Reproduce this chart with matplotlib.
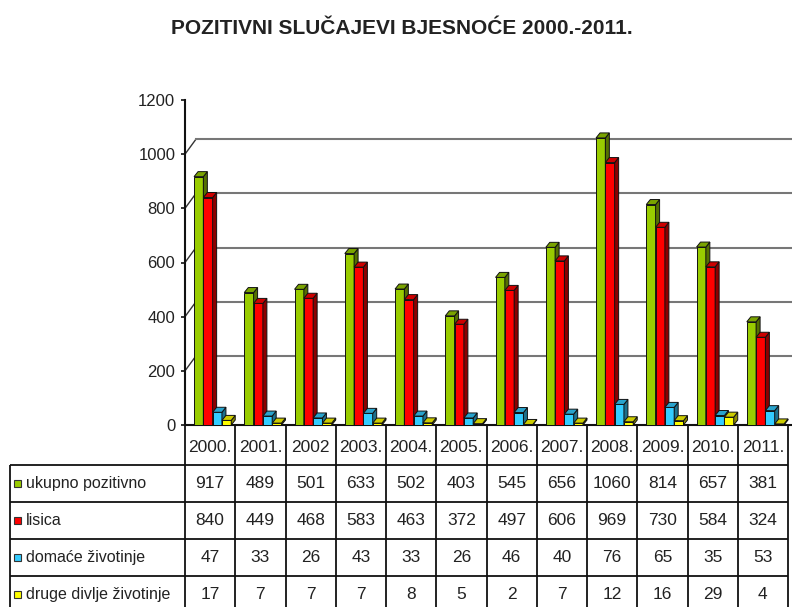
import numpy as np
import matplotlib
matplotlib.use('Agg')
import matplotlib.pyplot as plt
from matplotlib.patches import Polygon, Rectangle
from matplotlib.colors import to_rgb


years = ['2000.', '2001.', '2002', '2003.', '2004.', '2005.', '2006.',
         '2007.', '2008.', '2009.', '2010.', '2011.']
series_names = ['ukupno pozitivno', 'lisica', 'domaće životinje',
                'druge divlje životinje']
ukupno = [917, 489, 501, 633, 502, 403, 545, 656, 1060, 814, 657, 381]
lisica = [840, 449, 468, 583, 463, 372, 497, 606, 969, 730, 584, 324]
domace = [47, 33, 26, 43, 33, 26, 46, 40, 76, 65, 35, 53]
druge = [17, 7, 7, 7, 8, 5, 2, 7, 12, 16, 29, 4]
y_ticks = [0, 200, 400, 600, 800, 1000, 1200]

series = [ukupno, lisica, domace, druge]
colors = ['#99CC00', '#FF0000', '#33CCFF', '#FFFF00']

plt.rcParams['font.family'] = ['Liberation Sans Narrow', 'Liberation Sans', 'DejaVu Sans']
TXT = '#222222'

W, H = 792, 607
COL0 = 185          # left edge of the plot / first table column (px)
COLW = 50.25        # width of one year column (px)
Y0, Y1 = 425, 100   # pixel rows of 0 and 1200

fig = plt.figure(figsize=(W / 100, H / 100), dpi=100)
xmax = (W - COL0) / COLW
ax = fig.add_axes([COL0 / W, 1 - Y0 / H, 1 - COL0 / W, (Y0 - Y1) / H])
ax.set_xlim(0, xmax)
ax.set_ylim(0, 1200)

# fake depth, in data units
px_y = 1200 / (Y0 - Y1)
DX, DY = 4 / COLW, 5 * px_y       # bar depth
GX, GY = 11 / COLW, 15 * px_y     # back wall offset


def shade(c, f):
    r, g, b = to_rgb(c)
    return (r * f, g * f, b * f)


# back wall grid lines with the diagonal links to the axis
for v in y_ticks[1:-1]:
    ax.plot([0, GX], [v, v + GY], color='#333333', lw=1.0, zorder=1, clip_on=False)
    ax.plot([GX, xmax], [v + GY, v + GY], color='#777777', lw=1.5, zorder=1,
            clip_on=False)

barw = 0.185
for k, (vals, col) in enumerate(zip(series, colors)):
    x = np.arange(len(years)) + 0.18 + k * barw
    z = 3 + k
    ax.bar(x, vals, barw, align='edge', color=col, edgecolor='#111111',
           lw=0.7, zorder=z)
    for xi, h in zip(x, vals):
        side = [(xi + barw, 0), (xi + barw + DX, DY), (xi + barw + DX, h + DY), (xi + barw, h)]
        top = [(xi, h), (xi + DX, h + DY), (xi + barw + DX, h + DY), (xi + barw, h)]
        ax.add_patch(Polygon(side, closed=True, fc=shade(col, 0.55),
                             ec='#111111', lw=0.7, zorder=z))
        ax.add_patch(Polygon(top, closed=True, fc=shade(col, 0.8),
                             ec='#111111', lw=0.7, zorder=z))

ax.set_yticks(y_ticks)
ax.set_xticks([])
ax.tick_params(axis='y', length=3, width=1.2, pad=4, labelsize=12,
               labelcolor=TXT, color='#111111')
for s in ['top', 'right']:
    ax.spines[s].set_visible(False)
for s in ['left', 'bottom']:
    ax.spines[s].set_linewidth(1.5)
    ax.spines[s].set_color('#111111')
ax.patch.set_alpha(0)

fig.text(402 / W, 1 - 28 / H, 'POZITIVNI SLUČAJEVI BJESNOĆE 2000.-2011.',
         ha='center', va='center', fontsize=15, fontweight='bold', color=TXT)

# data table under the plot, in pixel coordinates
tab = fig.add_axes([0, 0, 1, 1], zorder=-1)
tab.set_xlim(0, W)
tab.set_ylim(H, 0)
tab.axis('off')

HEAD_TOP, HEAD_BOT = Y0, 465
ROWH = 37
LEFT = 10
ncol = len(years)
right = COL0 + ncol * COLW
row_edges = [HEAD_BOT + i * ROWH for i in range(len(series) + 1)]

tab.vlines([COL0 + i * COLW for i in range(ncol + 1)], HEAD_TOP, row_edges[-1],
           color='#111111', lw=1.3)
tab.vlines([LEFT], HEAD_BOT, row_edges[-1], color='#111111', lw=1.3)
tab.hlines(row_edges, LEFT, right, color='#111111', lw=1.3)

for i, yr in enumerate(years):
    tab.text(COL0 + (i + 0.5) * COLW, (HEAD_TOP + HEAD_BOT) / 2 + 2, yr,
             ha='center', va='center', fontsize=12.5, color=TXT)

for r, (name, vals, col) in enumerate(zip(series_names, series, colors)):
    yc = row_edges[r] + ROWH / 2
    tab.add_patch(Rectangle((14, yc - 3.5), 7, 7, fc=col, ec='#333333', lw=0.8))
    tab.text(26, yc, name, ha='left', va='center', fontsize=11.5, color=TXT)
    for i, v in enumerate(vals):
        tab.text(COL0 + (i + 0.5) * COLW, yc, str(v), ha='center', va='center',
                 fontsize=12.5, color=TXT)

fig.savefig('out.png', dpi=100)
